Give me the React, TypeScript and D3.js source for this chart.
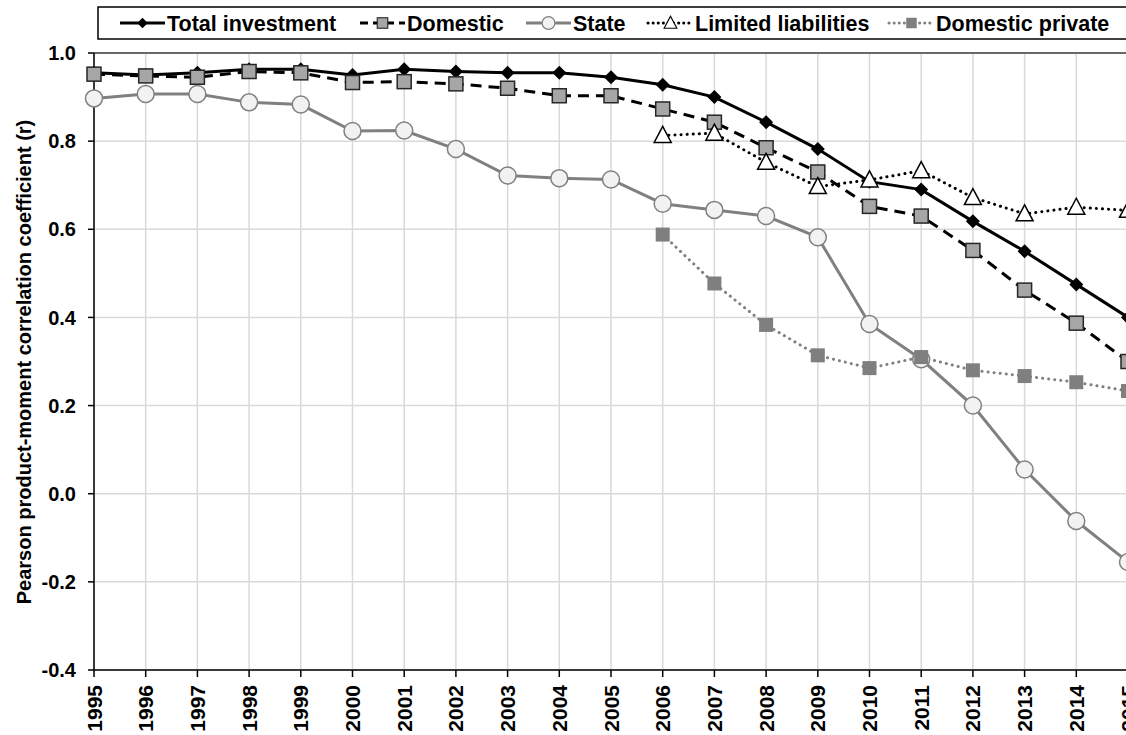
import React from "react";
import * as d3 from "d3";

// years on the x axis
const years = d3.range(1995, 2016);
const lateYears = d3.range(2006, 2016);

// values
const totalInvestment = [0.955, 0.95, 0.955, 0.963, 0.963, 0.95, 0.963, 0.958, 0.955, 0.955, 0.945, 0.928, 0.9, 0.843, 0.782, 0.708, 0.69, 0.618, 0.55, 0.475, 0.4];
const domestic = [0.952, 0.948, 0.945, 0.958, 0.955, 0.933, 0.935, 0.93, 0.92, 0.903, 0.903, 0.873, 0.843, 0.785, 0.73, 0.652, 0.63, 0.552, 0.462, 0.387, 0.3];
const stateVals = [0.897, 0.907, 0.907, 0.888, 0.883, 0.823, 0.824, 0.782, 0.722, 0.716, 0.713, 0.658, 0.644, 0.63, 0.582, 0.385, 0.305, 0.2, 0.055, -0.062, -0.155];
const limitedLiabilities = [0.813, 0.818, 0.752, 0.697, 0.712, 0.733, 0.672, 0.635, 0.65, 0.643];
const domesticPrivate = [0.588, 0.477, 0.383, 0.314, 0.285, 0.31, 0.28, 0.267, 0.253, 0.233];

const yTicks = [-0.4, -0.2, 0, 0.2, 0.4, 0.6, 0.8, 1.0];

const FONT = "'Liberation Sans', Arial, sans-serif";

type Marker = "diamond" | "square" | "circle" | "triangle" | "psquare";

const series = [
  { name: "Total investment", xs: years, vals: totalInvestment, stroke: "#000", dash: "", marker: "diamond" as Marker },
  { name: "Domestic", xs: years, vals: domestic, stroke: "#000", dash: "11,7", marker: "square" as Marker },
  { name: "State", xs: years, vals: stateVals, stroke: "#808080", dash: "", marker: "circle" as Marker },
  { name: "Limited liabilities", xs: lateYears, vals: limitedLiabilities, stroke: "#000", dash: "0.1,6", marker: "triangle" as Marker },
  { name: "Domestic private", xs: lateYears, vals: domesticPrivate, stroke: "#808080", dash: "0.1,6", marker: "psquare" as Marker },
];

function MarkerShape({ kind, x, y }: { kind: Marker; x: number; y: number }) {
  if (kind === "diamond")
    return <path d={`M${x},${y - 7}L${x + 7},${y}L${x},${y + 7}L${x - 7},${y}Z`} fill="#000" />;
  if (kind === "square")
    return <rect x={x - 7} y={y - 7} width={14} height={14} fill="#a6a6a6" stroke="#262626" strokeWidth={1.5} />;
  if (kind === "circle")
    return <circle cx={x} cy={y} r={8.5} fill="#f2f2f2" stroke="#808080" strokeWidth={1.5} />;
  if (kind === "triangle")
    return <path d={`M${x},${y - 9}L${x + 8.5},${y + 7}L${x - 8.5},${y + 7}Z`} fill="#fff" stroke="#000" strokeWidth={1.5} />;
  return <rect x={x - 7} y={y - 7} width={14} height={14} fill="#7f7f7f" />;
}

export default function App() {
  const width = 1126;
  const height = 735;

  const x = d3.scaleLinear().domain([1995, 2015]).range([94, 1128]);
  const y = d3.scaleLinear().domain([-0.4, 1.0]).range([670, 53]);

  const line = d3
    .line<[number, number]>()
    .x((d) => x(d[0]))
    .y((d) => y(d[1]));

  // legend layout: symbol width, then text
  const legendFont = 21.5;
  const textW = [171, 97, 53, 172, 173];
  const legendItems: { sx: number; ex: number; tx: number }[] = [];
  let cursor = 120;
  textW.forEach((w) => {
    legendItems.push({ sx: cursor, ex: cursor + 45, tx: cursor + 47 });
    cursor += 47 + w + 22;
  });

  const legendY = 23;

  return (
    <svg width={width} height={height} style={{ position: "absolute", left: 0, top: 0, background: "#fff" }} fontFamily={FONT}>
      {/* grid */}
      {years.map((yr) => (
        <line key={"gx" + yr} x1={x(yr)} x2={x(yr)} y1={53} y2={670} stroke="#d9d9d9" strokeWidth={1.5} />
      ))}
      {yTicks.map((t) => (
        <line key={"gy" + t} x1={94} x2={1130} y1={y(t)} y2={y(t)} stroke="#d9d9d9" strokeWidth={1.5} />
      ))}
      {/* top frame */}
      <line x1={94} x2={1130} y1={53} y2={53} stroke="#404040" strokeWidth={1.5} />

      {/* axes */}
      <line x1={94} x2={94} y1={53} y2={670} stroke="#000" strokeWidth={1.5} />
      <line x1={94} x2={1130} y1={670} y2={670} stroke="#000" strokeWidth={1.5} />
      {yTicks.map((t) => (
        <g key={"yt" + t}>
          <line x1={88} x2={94} y1={y(t)} y2={y(t)} stroke="#000" strokeWidth={1.5} />
          <text x={76} y={y(t)} dy="0.36em" textAnchor="end" fontSize={20} fontWeight="bold">
            {t.toFixed(1)}
          </text>
        </g>
      ))}
      {years.map((yr) => (
        <g key={"xt" + yr}>
          <line x1={x(yr)} x2={x(yr)} y1={670} y2={677} stroke="#000" strokeWidth={1.5} />
          <text
            transform={`translate(${x(yr)},685) rotate(-90)`}
            dy="0.36em"
            textAnchor="end"
            fontSize={21}
            fontWeight="bold"
          >
            {yr}
          </text>
        </g>
      ))}
      <text transform="translate(24,362) rotate(-90)" dy="0.36em" textAnchor="middle" fontSize={20} fontWeight="bold">
        Pearson product-moment correlation coefficient (r)
      </text>

      {/* lines */}
      {series.map((s) => (
        <path
          key={"l" + s.name}
          d={line(s.xs.map((yr, i) => [yr, s.vals[i]] as [number, number])) || ""}
          fill="none"
          stroke={s.stroke}
          strokeWidth={3}
          strokeDasharray={s.dash || undefined}
          strokeLinecap={s.dash.startsWith("0.1") ? "round" : "butt"}
        />
      ))}
      {/* markers */}
      {series.map((s) => (
        <g key={"m" + s.name}>
          {s.xs.map((yr, i) => (
            <MarkerShape key={yr} kind={s.marker} x={x(yr)} y={y(s.vals[i])} />
          ))}
        </g>
      ))}

      {/* legend */}
      <rect x={98} y={7} width={1040} height={32} fill="#fff" stroke="#000" strokeWidth={1.5} />
      {series.map((s, i) => {
        const it = legendItems[i];
        const cx = (it.sx + it.ex) / 2;
        const dotted = s.dash.startsWith("0.1");
        return (
          <g key={"lg" + s.name}>
            <line
              x1={it.sx}
              x2={it.ex}
              y1={legendY}
              y2={legendY}
              stroke={s.stroke}
              strokeWidth={3}
              strokeDasharray={s.dash ? (dotted ? "0.1,5" : "8,5") : undefined}
              strokeLinecap={dotted ? "round" : "butt"}
            />
            <g transform={`translate(${cx},${legendY}) scale(0.75) translate(${-cx},${-legendY})`}>
              <MarkerShape kind={s.marker} x={cx} y={legendY} />
            </g>
            <text x={it.tx} y={legendY} dy="0.36em" fontSize={legendFont} fontWeight="bold">
              {s.name}
            </text>
          </g>
        );
      })}
    </svg>
  );
}
